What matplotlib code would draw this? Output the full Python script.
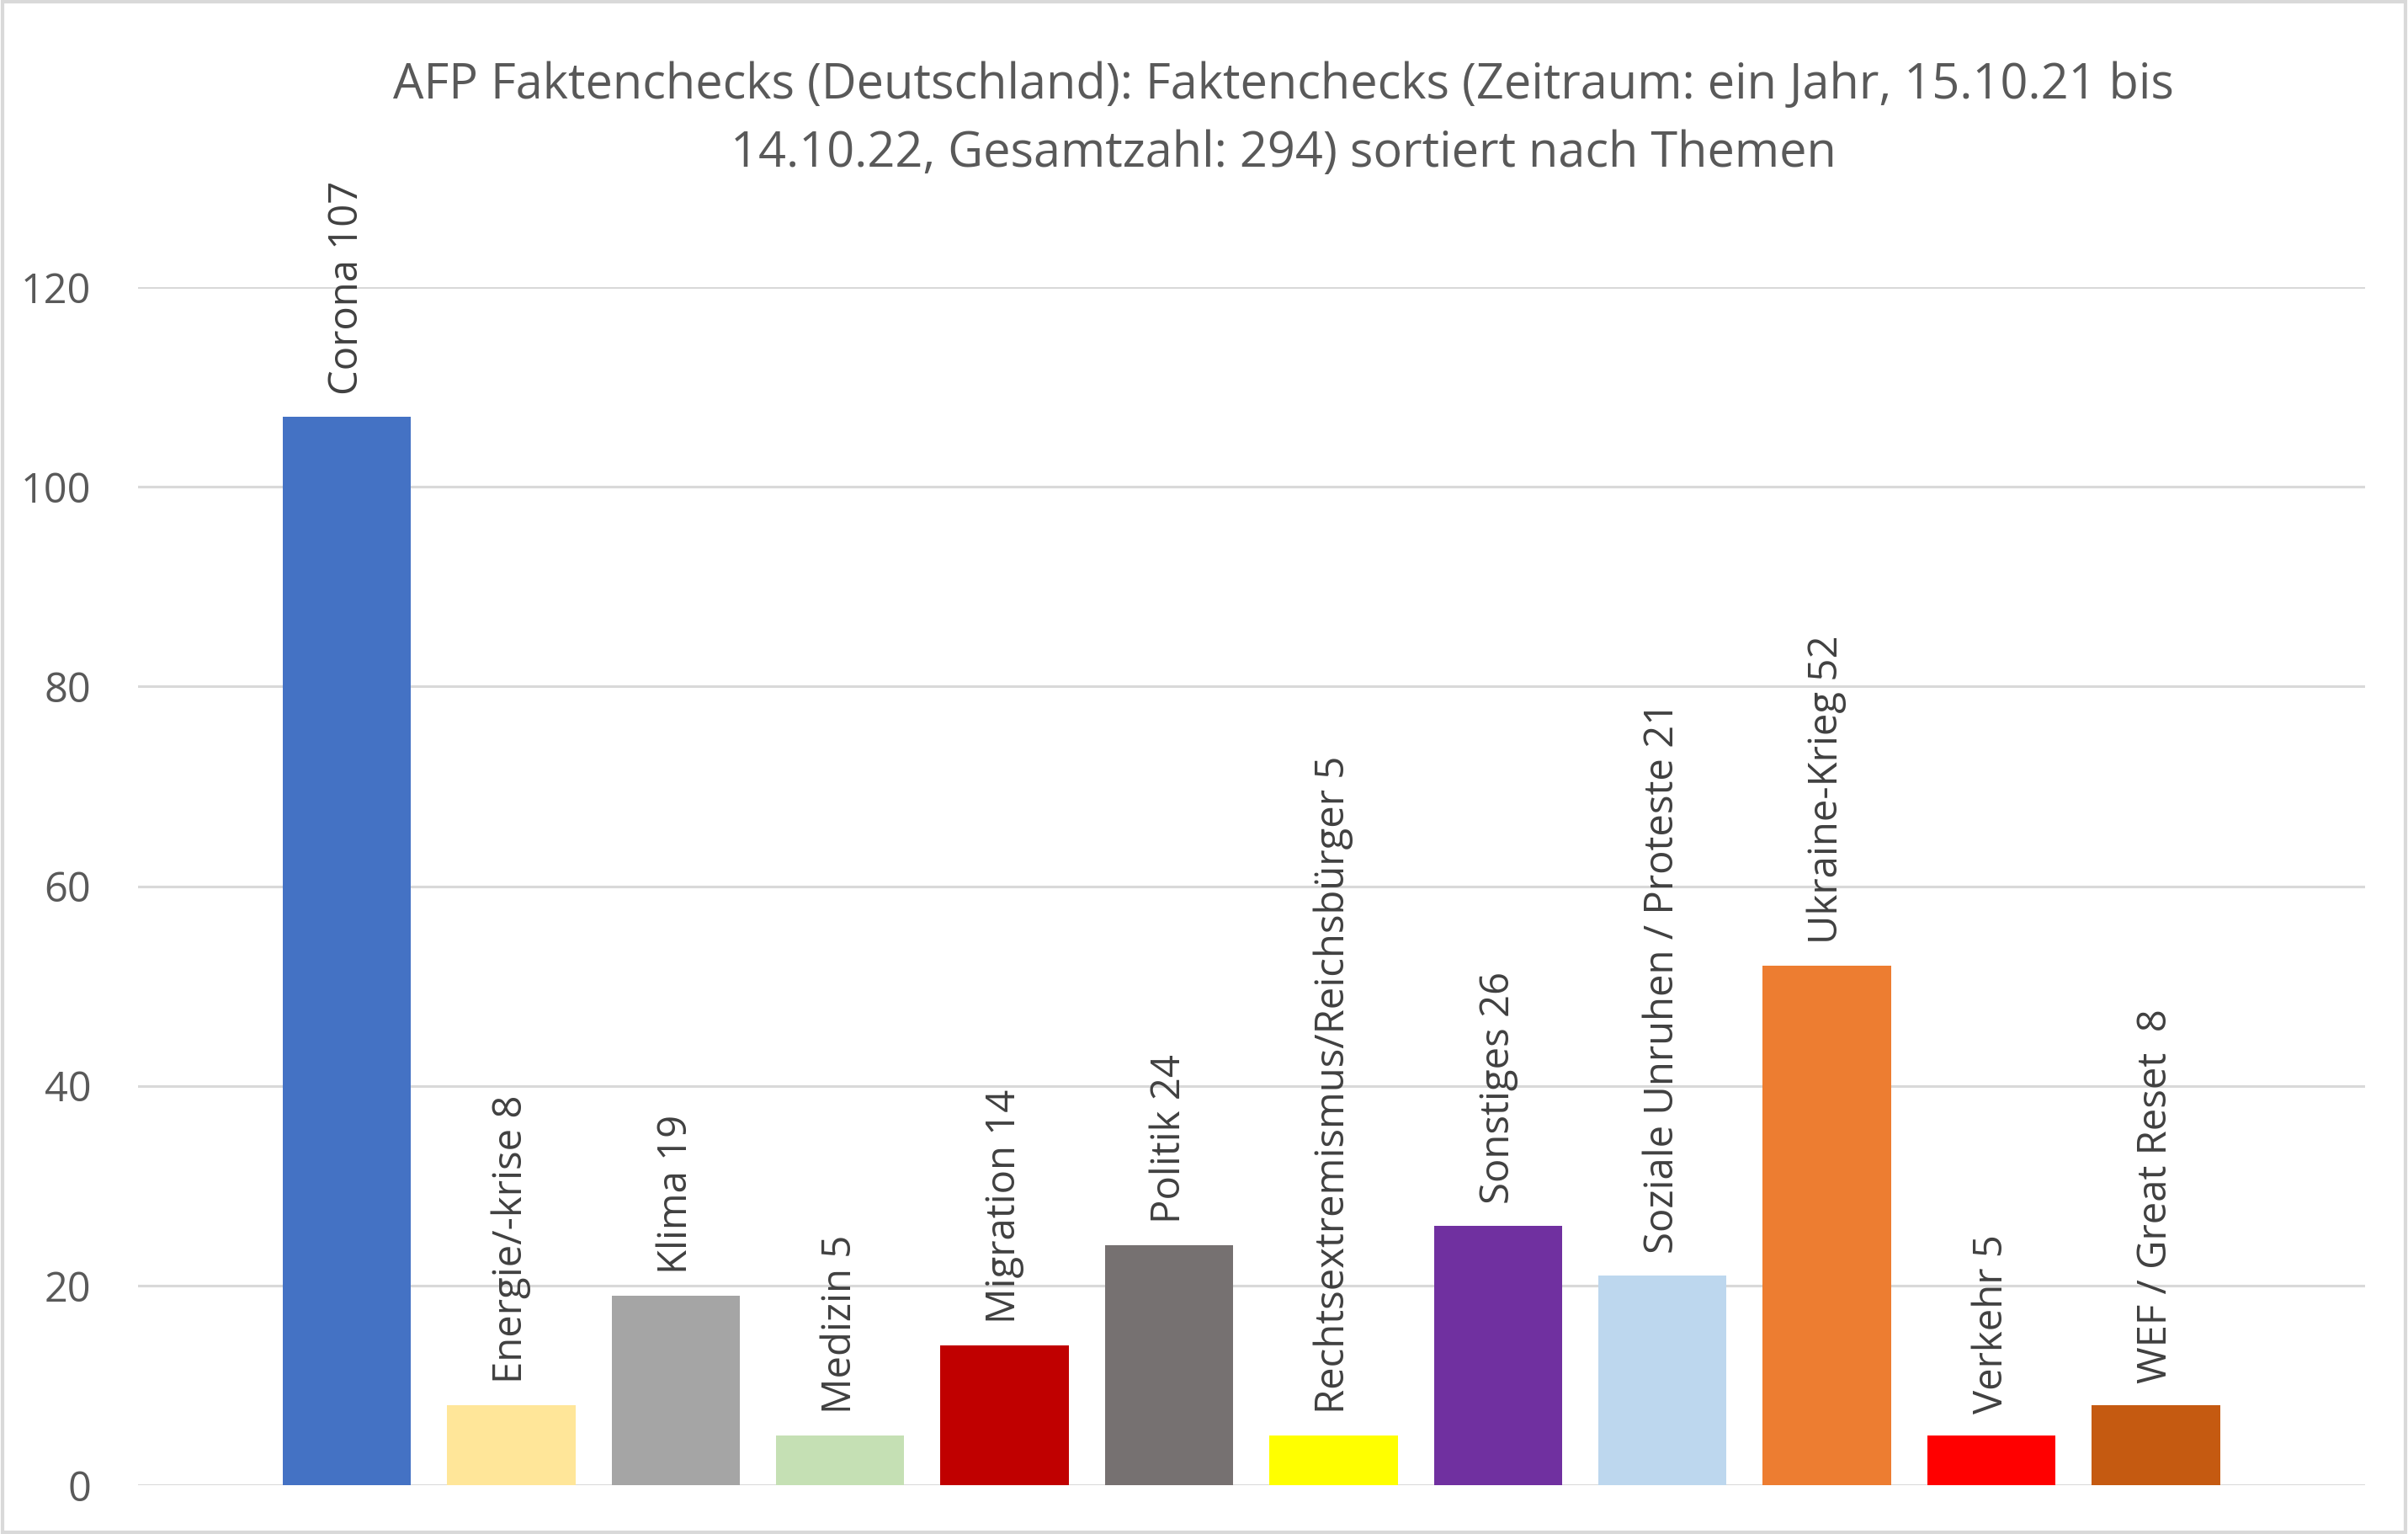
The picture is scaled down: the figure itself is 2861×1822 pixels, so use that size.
import matplotlib
matplotlib.use("Agg")
from matplotlib import pyplot as plt

themen = ["Corona", "Energie/-krise", "Klima", "Medizin", "Migration", "Politik",
          "Rechtsextremismus/Reichsbürger", "Sonstiges", "Soziale Unruhen / Proteste",
          "Ukraine-Krieg", "Verkehr", "WEF / Great Reset "]
anzahl = [107, 8, 19, 5, 14, 24, 5, 26, 21, 52, 5, 8]
farben = ["#4472C4", "#FFE699", "#A5A5A5", "#C5E0B4", "#C00000", "#767171",
          "#FFFF00", "#7030A0", "#BDD7EE", "#ED7D31", "#FF0000", "#C55A11"]
yticks = [0, 20, 40, 60, 80, 100, 120]

plt.rcParams['font.family'] = ['Open Sans', 'DejaVu Sans']

fig = plt.figure(figsize=(28.61, 18.22), dpi=100)
ax = fig.add_axes([0.0573, 0.0318, 0.9247, 0.781])

xs = list(range(len(themen)))
ax.bar(xs, anzahl, width=0.78, color=farben, zorder=2)
for x, name, n in zip(xs, themen, anzahl):
    ax.text(x, n + 2.2, name + " " + str(n), rotation=90, ha='center', va='bottom',
            fontsize=34, color='#404040', clip_on=False)

ax.set_xlim(-0.5 - 0.77, len(themen) - 0.5 + 0.77)
ax.set_ylim(0, 120)
ax.set_yticks(yticks)
ax.set_xticks([])
ax.grid(axis='y', color='#D9D9D9', linewidth=2.2, zorder=0)
for s in ax.spines.values():
    s.set_visible(False)
ax.tick_params(axis='y', length=0, labelsize=35, labelcolor='#595959', pad=40)

fig.text(0.533, 0.922, "AFP Faktenchecks (Deutschland): Faktenchecks (Zeitraum: ein Jahr, 15.10.21 bis\n"
         "14.10.22, Gesamtzahl: 294) sortiert nach Themen",
         ha='center', va='center', fontsize=41.5, color='#595959', linespacing=1.5)

# rahmen um das ganze bild
fig.patches.append(plt.Rectangle((0.001, 0.001), 0.998, 0.998, transform=fig.transFigure,
                                 fill=False, edgecolor='#D9D9D9', linewidth=3))

plt.savefig("out.png", dpi=100)
